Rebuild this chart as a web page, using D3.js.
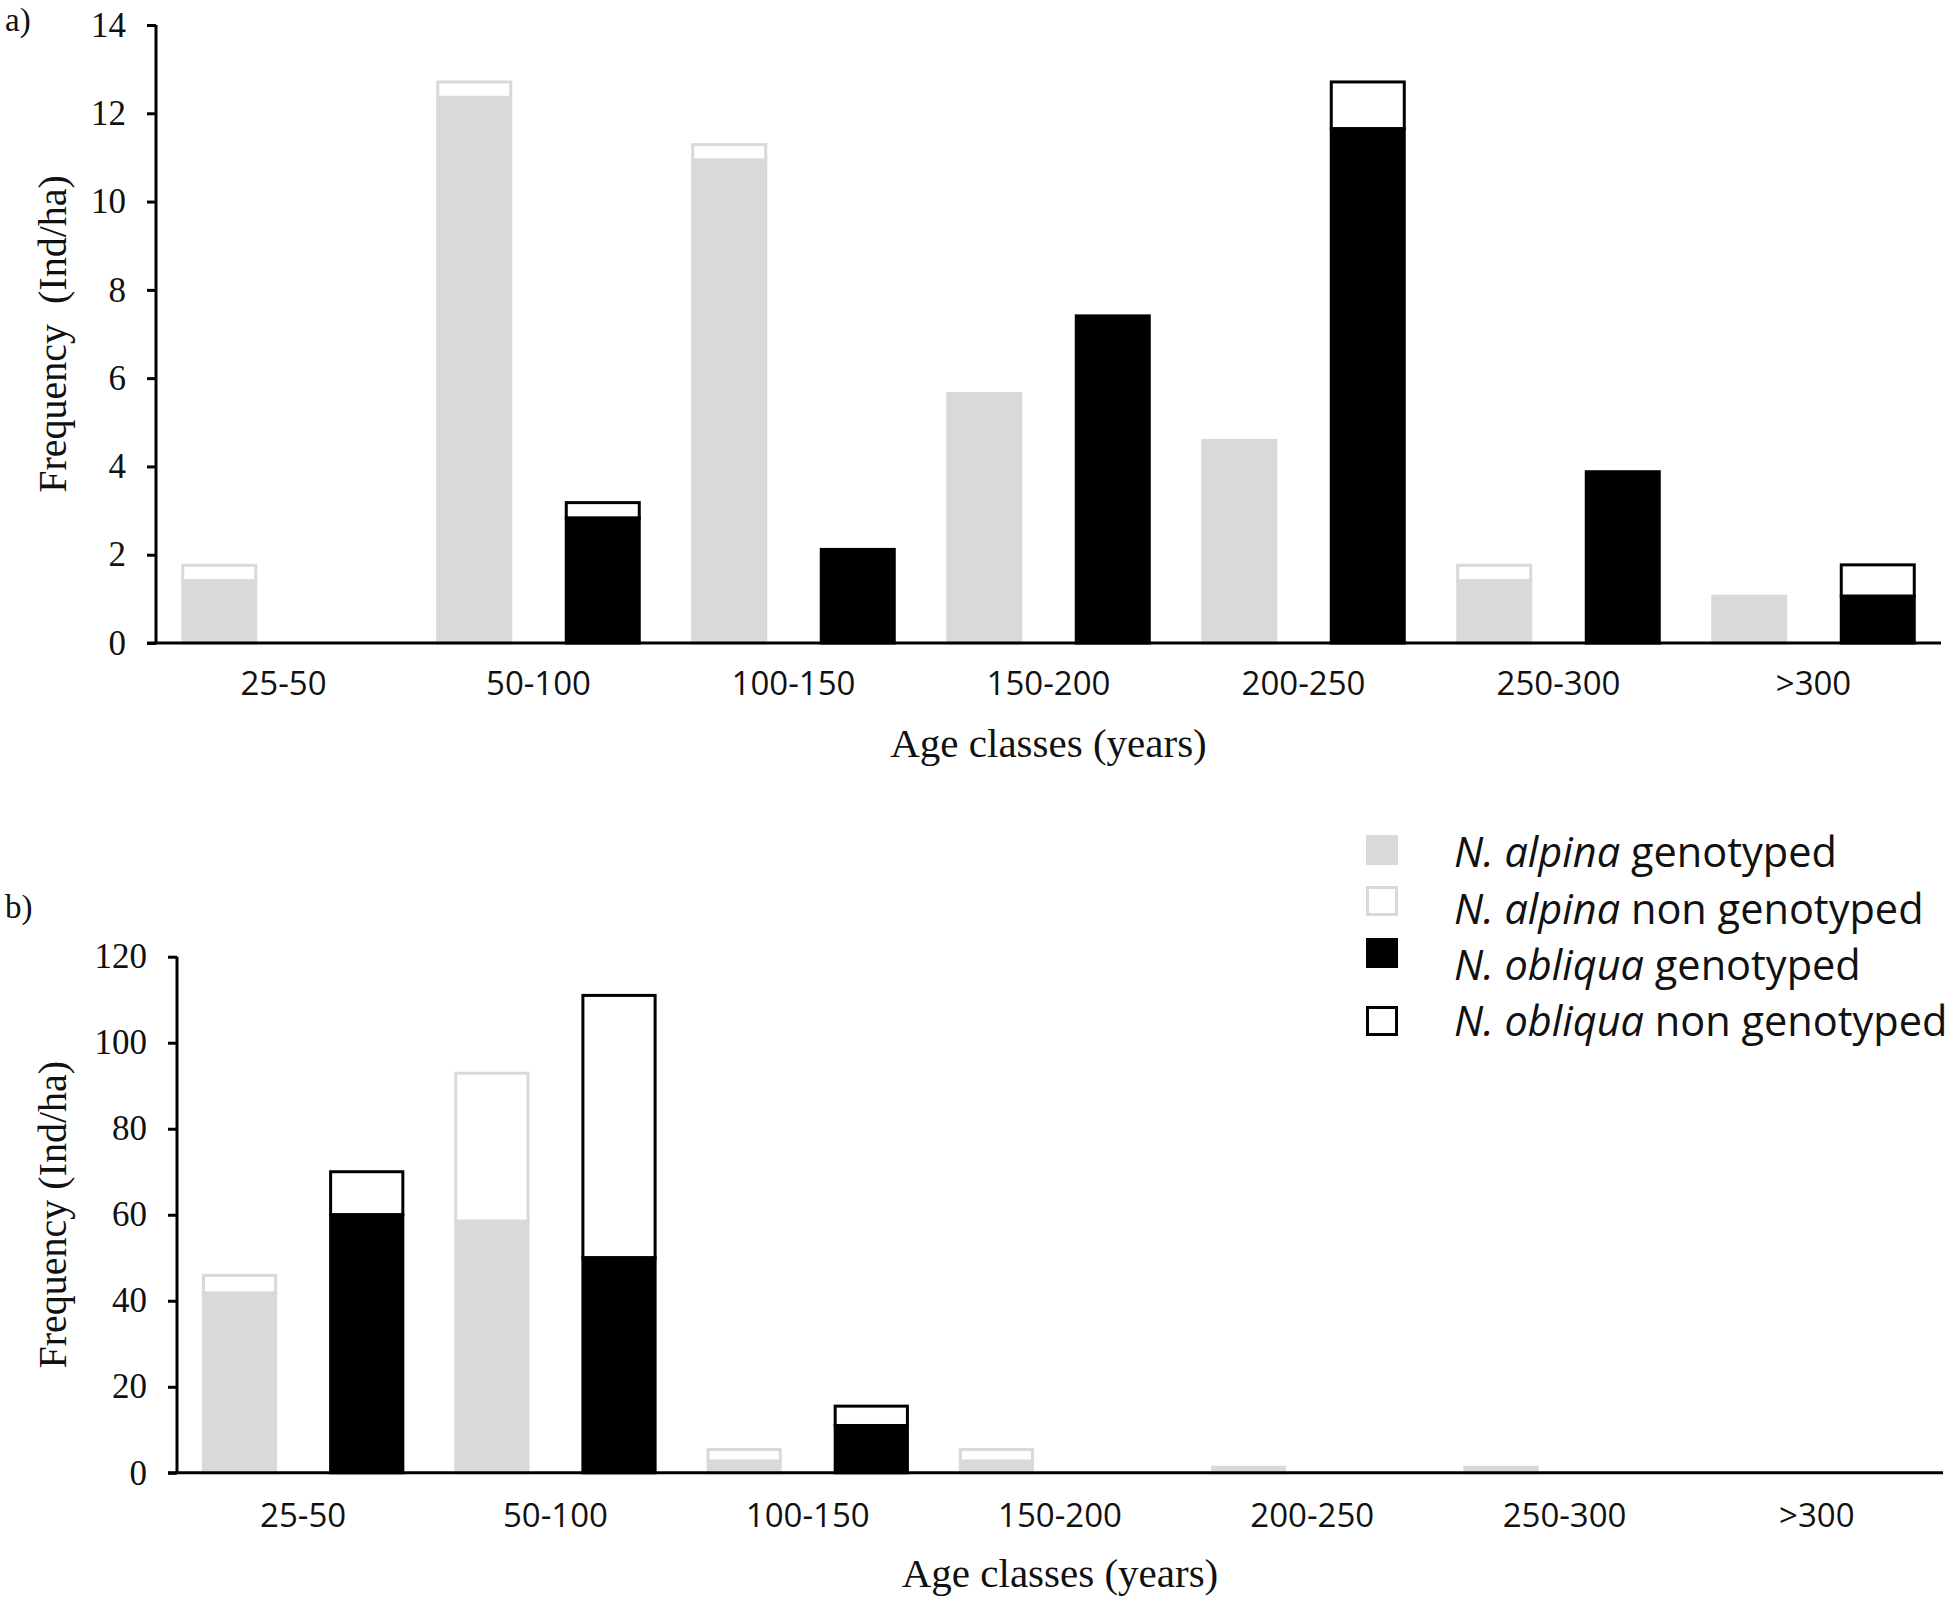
<!DOCTYPE html>
<html>
<head>
<meta charset="utf-8">
<script src="https://cdn.jsdelivr.net/npm/d3@7"></script>
<style>
  html, body { margin: 0; padding: 0; background: #fff; }
  svg { display: block; }
</style>
</head>
<body>
<svg id="chart" width="1946" height="1597"></svg>
<script>
// ---------------- DATA ----------------
const categories = ["25-50", "50-100", "100-150", "150-200", "200-250", "250-300", ">300"];

// Panel a)
const alpinaGenoA   = [1.41, 12.36, 10.94, 5.65, 4.59, 1.41, 1.06];
const alpinaNonA    = [0.35, 0.35, 0.35, 0, 0, 0.35, 0];
const obliquaGenoA  = [0, 2.83, 2.12, 7.41, 11.65, 3.88, 1.06];
const obliquaNonA   = [0, 0.35, 0, 0, 1.06, 0, 0.71];
const yTicksA       = [0, 2, 4, 6, 8, 10, 12, 14];

// Panel b)
const alpinaGenoB   = [41.8, 58.5, 2.7, 2.7, 1.3, 1.3, 0];
const alpinaNonB    = [4.1, 34.4, 2.7, 2.7, 0, 0, 0];
const obliquaGenoB  = [60, 50, 11, 0, 0, 0, 0];
const obliquaNonB   = [10, 61, 4.5, 0, 0, 0, 0];
const yTicksB       = [0, 20, 40, 60, 80, 100, 120];

const legendLabels = [
  {it: "N. alpina",  rest: " genotyped"},
  {it: "N. alpina",  rest: " non genotyped"},
  {it: "N. obliqua", rest: " genotyped"},
  {it: "N. obliqua", rest: " non genotyped"}
];

// ---------------- STYLE ----------------
const GRAY = "#d9d9d9";
const BLACK = "#000000";
const SERIF = "'Liberation Serif', 'Times New Roman', serif";
const SANS = "'Open Sans', 'Noto Sans', sans-serif";

const svg = d3.select("#chart");

function drawPanel(cfg) {
  const g = svg.append("g");
  const x = d3.scaleBand().domain(categories).range([cfg.left, cfg.right]).padding(0);
  const sub = d3.scaleBand().domain(["alpina", "obliqua"]).range([0, x.bandwidth()])
    .paddingInner(0.432).paddingOuter(0.208);
  const y = d3.scaleLinear().domain([0, cfg.max]).range([cfg.bottom, cfg.top]);

  const segs = [];
  categories.forEach((c, i) => {
    const sets = [
      {sp: "alpina", geno: cfg.aG[i], non: cfg.aN[i], col: GRAY},
      {sp: "obliqua", geno: cfg.oG[i], non: cfg.oN[i], col: BLACK}
    ];
    sets.forEach(s => {
      if (s.non > 0) segs.push({c, sp: s.sp, y0: s.geno, y1: s.geno + s.non, fill: "#ffffff", stroke: s.col});
      if (s.geno > 0) segs.push({c, sp: s.sp, y0: 0, y1: s.geno, fill: s.col, stroke: s.col});
    });
  });

  g.append("g").selectAll("rect").data(segs).join("rect")
    .attr("x", d => x(d.c) + sub(d.sp))
    .attr("width", sub.bandwidth())
    .attr("y", d => y(d.y1))
    .attr("height", d => y(d.y0) - y(d.y1))
    .attr("fill", d => d.fill)
    .attr("stroke", d => d.stroke)
    .attr("stroke-width", 3);

  const yAxis = d3.axisLeft(y).tickValues(cfg.ticks).tickSize(9).tickPadding(21).tickSizeOuter(0);
  const ya = g.append("g").attr("transform", `translate(${cfg.left},0)`).call(yAxis);
  ya.select(".domain").attr("stroke", BLACK).attr("stroke-width", 3)
    .attr("d", `M0,${cfg.bottom}V${cfg.top}`);
  ya.selectAll(".tick line").attr("stroke", BLACK).attr("stroke-width", 3);
  ya.selectAll(".tick text").attr("font-family", SERIF).attr("font-size", 35).attr("fill", "#111");

  const xAxis = d3.axisBottom(x).tickSize(0).tickPadding(0);
  const xa = g.append("g").attr("transform", `translate(0,${cfg.bottom})`).call(xAxis);
  xa.select(".domain").attr("stroke", BLACK).attr("stroke-width", 3)
    .attr("d", `M${cfg.left - 9},0H${cfg.right}`);
  xa.selectAll(".tick text").attr("font-family", SANS).attr("font-size", 33)
    .attr("fill", "#111").attr("dy", null).attr("y", cfg.xLabelDy);

  g.append("text")
    .attr("x", (cfg.left + cfg.right) / 2).attr("y", cfg.bottom + 114)
    .attr("text-anchor", "middle").attr("font-family", SERIF).attr("font-size", 41)
    .attr("fill", "#111").text("Age classes (years)");

  g.append("text")
    .attr("transform", `translate(66,${(cfg.top + cfg.bottom) / 2}) rotate(-90)`)
    .attr("text-anchor", "middle").attr("font-family", SERIF).attr("font-size", 40)
    .attr("fill", "#111").attr("xml:space", "preserve").style("white-space", "pre")
    .text(cfg.yTitle);

  g.append("text").attr("x", 5).attr("y", cfg.tagY)
    .attr("font-family", SERIF).attr("font-size", 33).attr("fill", "#111").text(cfg.tag);
}

drawPanel({
  left: 156, right: 1941, top: 25, bottom: 643, max: 14, ticks: yTicksA,
  aG: alpinaGenoA, aN: alpinaNonA, oG: obliquaGenoA, oN: obliquaNonA,
  xLabelDy: 52, yTitle: "Frequency  (Ind/ha)", tag: "a)", tagY: 31
});

drawPanel({
  left: 177, right: 1943, top: 956.7, bottom: 1472.8, max: 120, ticks: yTicksB,
  aG: alpinaGenoB, aN: alpinaNonB, oG: obliquaGenoB, oN: obliquaNonB,
  xLabelDy: 54, yTitle: "Frequency (Ind/ha)", tag: "b)", tagY: 918
});

// ---------------- LEGEND ----------------
const legendStyles = [
  {fill: GRAY, stroke: GRAY},
  {fill: "#ffffff", stroke: GRAY},
  {fill: BLACK, stroke: BLACK},
  {fill: "#ffffff", stroke: BLACK}
];
const swatchCenters = [850, 901, 953, 1021];
const textBaselines = [867, 924, 980, 1036];

const leg = svg.append("g");
leg.selectAll("rect").data(legendStyles).join("rect")
  .attr("x", 1367.5).attr("width", 29)
  .attr("y", (d, i) => swatchCenters[i] - 13.5).attr("height", 27)
  .attr("fill", d => d.fill).attr("stroke", d => d.stroke).attr("stroke-width", 3);

const lt = leg.selectAll("text").data(legendLabels).join("text")
  .attr("x", 1454).attr("y", (d, i) => textBaselines[i])
  .attr("font-family", SANS).attr("font-size", 41.5).attr("fill", "#111")
  .attr("xml:space", "preserve").style("white-space", "pre");
lt.append("tspan").attr("font-style", "italic").text(d => d.it);
lt.append("tspan").text(d => d.rest);
</script>
</body>
</html>
